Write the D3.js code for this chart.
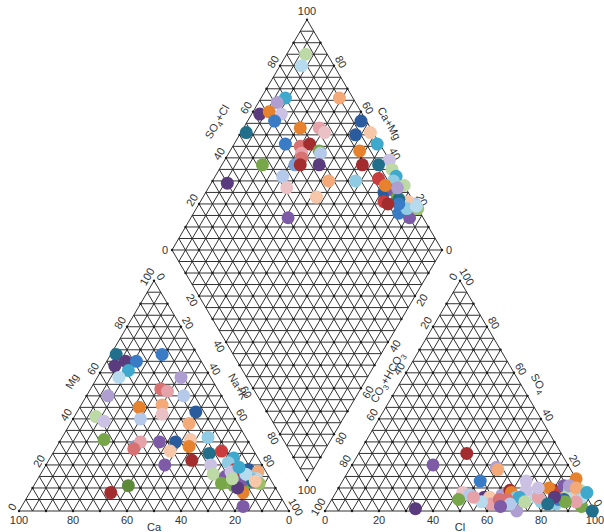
<!DOCTYPE html>
<html>
<head>
<meta charset="utf-8">
<script src="https://cdn.jsdelivr.net/npm/d3@7"></script>
<style>
  body { margin: 0; background: #fff; }
  text { font-family: "Liberation Sans", Arial, sans-serif; fill: #333; }
</style>
</head>
<body>
<svg id="chart" width="604" height="532"></svg>
<script>
// ---- Data (milliequivalent percentages) ----
const tickValues = [0, 20, 40, 60, 80, 100];
const innerTicks = [20, 40, 60, 80];

// One colour per sampling group
const groupColors = [
  "#5a3b7d", "#7d5ba6", "#ae9fd0", "#cbc1e2", "#216f8b", "#3ea8cd",
  "#8fcbe2", "#b6daee", "#b5c9ea", "#3a7bc5", "#2a5b9c", "#7b9fd7",
  "#e6822d", "#f3a978", "#f7c7aa", "#a22c2e", "#c83d3d", "#d87272",
  "#e5a3a9", "#eac2c6", "#77a749", "#5d8a39", "#bdd9a5", "#9cc068"
];

// Cations: [Ca, Mg, group]   (Na+K = 100 - Ca - Mg)
const cationPoints = [
  [30, 68, 4], [28, 65, 0], [33, 63, 0], [24, 65, 9], [29, 61, 5], [34, 58, 7],
  [13, 68, 9], [11, 58, 2], [21, 53, 17], [19, 52, 18], [14, 50, 8], [42, 50, 2],
  [33, 45, 12], [24, 46, 13], [26, 42, 19], [13, 43, 10], [51, 41, 22], [49, 39, 3],
  [35, 40, 8], [18, 38, 13], [53, 31, 20], [43, 28, 11], [40, 30, 18], [44, 27, 17],
  [33, 30, 1], [27, 30, 10], [21, 31, 14], [23, 28, 12], [31, 26, 14], [14, 32, 6],
  [17, 25, 4], [12, 26, 16], [25, 22, 15], [36, 20, 1], [19, 20, 3], [9, 23, 5],
  [12, 21, 6], [11, 18, 16], [20, 16, 22], [54, 11, 21], [62, 8, 15], [6, 18, 10],
  [3, 17, 13], [11, 16, 22], [15, 14, 9], [16, 15, 1], [19, 12, 20], [15, 11, 20],
  [5, 14, 7], [10, 12, 20], [5, 12, 23], [11, 13, 1], [13, 8, 12], [14, 10, 0],
  [16, 2, 1], [7, 15, 6], [7, 13, 4], [10, 18, 16], [8, 16, 7], [13, 17, 3],
  [14, 14, 22], [6, 13, 14], [9, 19, 5]
];

// Anions: [Cl, SO4, group]   (CO3+HCO3 = 100 - Cl - SO4)
const anionPoints = [
  [40, 25, 15], [30, 20, 1], [54, 19, 2], [55, 18, 13], [51, 13, 9], [68, 13, 3],
  [47, 8, 19], [50, 7, 8], [47, 5, 20], [56, 6, 0], [33, 1, 0], [58, 6, 14],
  [62, 7, 2], [60, 3, 18], [64, 9, 15], [65, 8, 12], [68, 6, 6], [75, 6, 7],
  [78, 4, 6], [76, 6, 18], [70, 9, 3], [69, 6, 5], [65, 5, 17], [62, 5, 17],
  [71, 0, 2], [67, 3, 8], [86, 14, 12], [80, 9, 15], [78, 10, 12], [83, 8, 16],
  [83, 11, 1], [86, 9, 6], [90, 9, 22], [86, 6, 22], [89, 7, 7], [86, 5, 10],
  [94, 2, 20], [99, 0, 4], [90, 7, 14], [92, 6, 7], [84, 3, 6], [85, 11, 2],
  [88, 10, 13], [91, 4, 18], [93, 8, 5], [84, 5, 9], [87, 4, 20], [82, 6, 0],
  [74, 10, 3], [81, 3, 4], [72, 4, 22], [64, 2, 1], [56, 4, 7], [52, 6, 18]
];

// Combined field: [Na+K, SO4+Cl, group]
const diamondPoints = [
  [7, 92, 22], [8, 88, 7], [9, 75, 5], [29, 95, 13], [7, 71, 2], [3, 62, 0],
  [6, 66, 12], [11, 70, 3], [10, 66, 9], [2, 53, 4], [21, 74, 12], [28, 81, 18],
  [31, 82, 19], [19, 65, 9], [25, 70, 17], [28, 74, 15], [33, 76, 20], [34, 76, 8],
  [27, 69, 18], [28, 68, 17], [27, 64, 11], [29, 66, 15], [36, 73, 0], [15, 52, 20],
  [25, 57, 8], [43, 73, 13], [6, 35, 0], [29, 56, 19], [42, 65, 14], [36, 50, 1],
  [42, 98, 10], [48, 99, 14], [43, 93, 10], [53, 99, 5], [48, 91, 12], [52, 89, 15],
  [61, 100, 3], [58, 95, 4], [64, 99, 22], [67, 99, 5], [61, 92, 16], [53, 83, 6],
  [72, 100, 22], [67, 97, 6], [66, 91, 10], [69, 95, 1], [72, 95, 20], [75, 96, 23],
  [68, 89, 16], [76, 92, 9], [81, 95, 1], [80, 100, 8], [77, 98, 14], [78, 96, 6],
  [82, 100, 23], [81, 100, 7], [73, 95, 4], [70, 97, 2], [74, 94, 9], [70, 90, 15],
  [65, 93, 12]
];

// ---- Layout ----
const svg = d3.select("#chart");
const side = 270, rise = 230.3, baseY = 511;
const leftX0 = 19, rightX0 = 325;
const color = d3.scaleOrdinal().domain(d3.range(groupColors.length)).range(groupColors);
const gridColor = "#262626";
const pointR = 6.5;

// Ternary projection: b = share of bottom-right corner, c = share of apex
function ternary(x0) {
  const sx = d3.scaleLinear().domain([0, 100]).range([x0, x0 + side]);
  const sy = d3.scaleLinear().domain([0, 100]).range([baseY, baseY - rise]);
  return (b, c) => [sx(b + c / 2), sy(c)];
}
const leftProj = ternary(leftX0);    // b = Na+K, c = Mg
const rightProj = ternary(rightX0);  // b = Cl,   c = SO4

// Diamond projection: n = Na+K, a = SO4+Cl
const diamondBottom = baseY - 30.7;
const dX = d3.scaleLinear().domain([0, 200]).range([172, 442]);
const dY = d3.scaleLinear().domain([-100, 100]).range([diamondBottom - 2 * rise, diamondBottom]);
const diamondProj = (n, a) => [dX(n + a), dY(n - a)];

const line = d3.line();
const gGrid = svg.append("g").attr("fill", "none").attr("stroke", gridColor).attr("stroke-width", 0.95);
const gDots = svg.append("g").attr("fill", "#1a1a1a");

function seg(p, q) {
  gGrid.append("path").attr("d", line([p, q]));
}

const steps = d3.range(5, 100, 5);

function triangleGrid(proj) {
  gGrid.append("path").attr("d", line([proj(0, 0), proj(100, 0), proj(0, 100)]) + "Z");
  steps.forEach(k => {
    seg(proj(0, k), proj(100 - k, k));
    seg(proj(k, 0), proj(k, 100 - k));
    seg(proj(100 - k, 0), proj(0, 100 - k));
  });
  for (let b = 0; b <= 100; b += 10)
    for (let c = 0; b + c <= 100; c += 10) {
      const p = proj(b, c);
      gDots.append("circle").attr("cx", p[0]).attr("cy", p[1]).attr("r", 1.2);
    }
}
triangleGrid(leftProj);
triangleGrid(rightProj);

// Diamond grid
gGrid.append("path").attr("d", line([diamondProj(0, 0), diamondProj(100, 0), diamondProj(100, 100), diamondProj(0, 100)]) + "Z");
steps.forEach(k => {
  seg(diamondProj(k, 0), diamondProj(k, 100));
  seg(diamondProj(0, k), diamondProj(100, k));
});
d3.range(-95, 100, 5).forEach(d => {
  if (d >= 0) seg(diamondProj(d, 0), diamondProj(100, 100 - d));
  else seg(diamondProj(0, -d), diamondProj(100 + d, 100));
});
for (let n = 0; n <= 100; n += 10)
  for (let a = 0; a <= 100; a += 10) {
    const p = diamondProj(n, a);
    gDots.append("circle").attr("cx", p[0]).attr("cy", p[1]).attr("r", 1.2);
  }

// ---- Labels ----
const gText = svg.append("g").attr("font-size", 11);
const N_UL = [-0.866, -0.5], N_UR = [0.866, -0.5], N_LL = [-0.866, 0.5], N_LR = [0.866, 0.5];

function rotatedLabel(p, normal, off, angle, txt) {
  const x = p[0] + normal[0] * off, y = p[1] + normal[1] * off;
  return gText.append("text")
    .attr("transform", `translate(${x},${y}) rotate(${angle})`)
    .attr("text-anchor", "middle").attr("dy", "0.35em").text(txt);
}
function edgeLabels(values, pos, normal, angle, off = 8) {
  values.forEach(v => rotatedLabel(pos(v), normal, off, angle, v));
}
function flatLabel(x, y, txt) {
  return gText.append("text").attr("x", x).attr("y", y).attr("text-anchor", "middle").text(txt);
}
function subTitle(p, normal, off, angle, parts) {
  const t = rotatedLabel(p, normal, off, angle, null);
  parts.forEach(([s, sub], i) => {
    const ts = t.append("tspan").text(s);
    if (sub) ts.attr("font-size", 8).attr("dy", 3);
    else if (i > 0) ts.attr("dy", -3);
  });
  return t;
}

// Cation triangle
tickValues.forEach(v => flatLabel(leftProj(100 - v, 0)[0], 524, v));
flatLabel(leftProj(50, 0)[0], 531, "Ca");
edgeLabels(tickValues, v => leftProj(0, v), N_UL, -60);
edgeLabels(tickValues, v => leftProj(v, 100 - v), N_UR, 60);
rotatedLabel(leftProj(0, 52), N_UL, 20, -60, "Mg");
rotatedLabel(leftProj(50, 50), N_UR, 19, 60, "Na+K");

// Anion triangle
tickValues.forEach(v => flatLabel(rightProj(v, 0)[0], 524, v));
flatLabel(rightProj(50, 0)[0], 531, "Cl");
edgeLabels(tickValues, v => rightProj(0, 100 - v), N_UL, -60);
edgeLabels(innerTicks.concat([100]), v => rightProj(100 - v, v), N_UR, 60);
// SO4 zero sits at the right border: keep it just inside the frame
const so4Zero = rightProj(100, 0);
gText.append("text")
  .attr("transform", `translate(${so4Zero[0] + 3},${so4Zero[1] - 8}) rotate(60)`)
  .attr("text-anchor", "middle").attr("dy", "0.35em").text(0);
subTitle(rightProj(0, 55), N_UL, 14, -60, [["CO", false], ["3", true], ["+HCO", false], ["3", true]]);
subTitle(rightProj(48, 52), N_UR, 16, 60, [["SO", false], ["4", true]]);

// Diamond
edgeLabels(innerTicks, v => diamondProj(0, v), N_UL, -60);
edgeLabels(innerTicks, v => diamondProj(100 - v, 100), N_UR, 60);
edgeLabels(innerTicks, v => diamondProj(v, 0), N_LL, 60);
edgeLabels(innerTicks, v => diamondProj(100, 100 - v), N_LR, -60);
const L = diamondProj(0, 0), R = diamondProj(100, 100), T = diamondProj(0, 100), B = diamondProj(100, 0);
gText.append("text").attr("x", L[0] - 7).attr("y", L[1]).attr("dy", "0.35em").attr("text-anchor", "middle").text(0);
gText.append("text").attr("x", R[0] + 7).attr("y", R[1]).attr("dy", "0.35em").attr("text-anchor", "middle").text(0);
gText.append("text").attr("x", T[0]).attr("y", T[1] - 9).attr("dy", "0.35em").attr("text-anchor", "middle").text(100);
gText.append("text").attr("x", B[0]).attr("y", B[1] + 10).attr("dy", "0.35em").attr("text-anchor", "middle").text(100);
subTitle(diamondProj(0, 50), N_UL, 26, -60, [["SO", false], ["4", true], ["+Cl", false]]);
rotatedLabel(diamondProj(49, 100), N_UR, 18.5, 60, "Ca+Mg");

// ---- Points ----
const gPts = svg.append("g");
function drawPoints(data, proj) {
  gPts.append("g").selectAll("circle").data(data).join("circle")
    .attr("cx", d => proj(d)[0]).attr("cy", d => proj(d)[1])
    .attr("r", pointR).attr("fill", d => color(d[2]));
}
drawPoints(cationPoints, d => leftProj(100 - d[0] - d[1], d[1]));
drawPoints(anionPoints, d => rightProj(d[0], d[1]));
drawPoints(diamondPoints, d => diamondProj(d[0], d[1]));
</script>
</body>
</html>
